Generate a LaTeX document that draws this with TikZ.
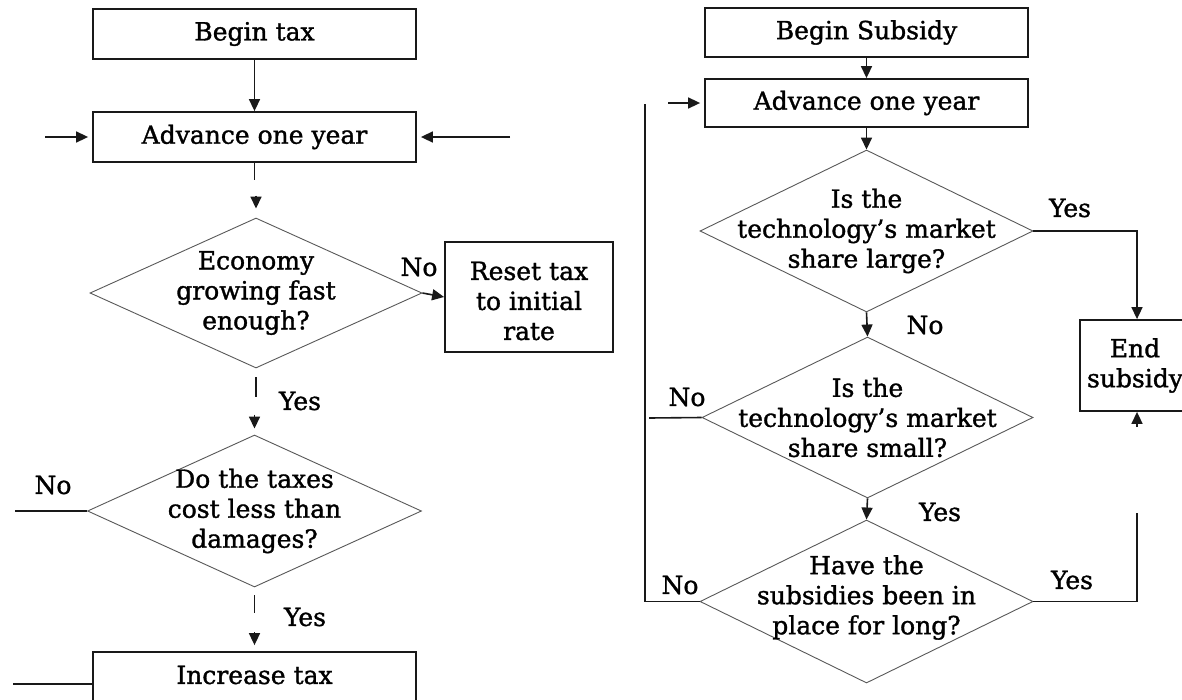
\documentclass[tikz,border=0pt]{standalone}
\usepackage{fontspec}
\setmainfont{DejaVu Serif}
\newfontfamily\chartfont{DejaVu Serif}[FakeBold=1.3,Ligatures=TeX]
\usetikzlibrary{shapes.geometric,arrows.meta,calc}
\tikzset{
  box/.style={draw=black!90, line width=1.8pt, rectangle, inner sep=0pt},
  dia/.style={draw=black!65, line width=0.9pt, diamond, inner sep=0pt},
  con/.style={draw=black!90, line width=1.6pt},
  arr/.style={con, -{Triangle[length=12pt,width=11pt]}},
  txt/.style={align=center, font=\chartfont\fontsize{25}{30}\selectfont, inner sep=0pt},
  lbl/.style={font=\chartfont\fontsize{25}{30}\selectfont, inner sep=0pt},
}
\begin{document}
\begin{tikzpicture}[x=1pt,y=-1pt]
\fill[white] (0,0) rectangle (1182,699);
\useasboundingbox (0,0) rectangle (1182,699);

% ---------- left chart: tax ----------
\node[box, minimum width=323pt, minimum height=50pt] (bt) at (254.5,34) {};
\node[txt] at (bt.center) {Begin tax};
\node[box, minimum width=323pt, minimum height=50pt] (at) at (254.5,137) {};
\node[txt] at (at.center) {Advance one year};
\node[dia, minimum width=332pt, minimum height=150pt] (d1) at (256,293) {};
\node[txt] at (d1.center) {Economy\\growing fast\\enough?};
\node[box, minimum width=168pt, minimum height=110pt] (rs) at (529,297) {};
\node[txt] at ($(rs.center)+(0,4)$) {Reset tax\\to initial\\rate};
\node[dia, minimum width=334pt, minimum height=152pt] (d2) at (254.5,511) {};
\node[txt] at (d2.center) {Do the taxes\\cost less than\\damages?};
\node[box, minimum width=323pt, minimum height=54pt] (it) at (254.5,679) {};
\node[txt] at (254.5,675) {Increase tax};

\coordinate (inL) at (45,137);
\coordinate (inR) at (510,137);
\coordinate (nL2) at (15,511);
\coordinate (nL3) at (13,684);

\draw[arr] (bt.south) -- (at.north);
\draw[arr, shorten >=4pt] (inL) -- (at.west);
\draw[arr, shorten >=4pt] (inR) -- (at.east);
\draw[con] (at.south) -- ++(0,17);
\draw[arr] ($(d1.north)+(0,-22)$) -- ($(d1.north)+(0,-9)$);
\draw[arr] (d1.east) -- (rs.west);
\node[lbl] at (419,267) {No};
\draw[con] ($(d1.south)+(0,9)$) -- ++(0,20);
\draw[arr] ($(d2.north)+(0,-20)$) -- ($(d2.north)+(0,-6)$);
\node[lbl] at (300,401) {Yes};
\draw[con] (d2.west) -- (nL2);
\node[lbl] at (53,485) {No};
\draw[con] ($(d2.south)+(0,8)$) -- ++(0,18);
\draw[arr] ($(it.north)+(0,-19)$) -- ($(it.north)+(0,-6)$);
\node[lbl] at (305,617) {Yes};
\draw[con] (it.west |- nL3) -- (nL3);

% ---------- right chart: subsidy ----------
\node[box, minimum width=323pt, minimum height=49pt] (bs) at (866.5,32.5) {};
\node[txt] at (bs.center) {Begin Subsidy};
\node[box, minimum width=323pt, minimum height=48pt] (ar) at (866.5,103) {};
\node[txt] at (ar.center) {Advance one year};
\node[dia, minimum width=333pt, minimum height=162pt] (dA) at (866.5,231) {};
\node[txt] at (dA.center) {Is the\\technology’s market\\share large?};
\node[dia, minimum width=331pt, minimum height=161pt] (dB) at (867.5,417.5) {};
\node[txt] at (dB.center) {Is the\\technology’s market\\share small?};
\node[dia, minimum width=333pt, minimum height=163pt] (dC) at (866.5,601.5) {};
\node[txt] at ($(dC.center)+(0,-4)$) {Have the\\subsidies been in\\place for long?};
\node[box, minimum width=114pt, minimum height=91pt] (es) at (1137,365.5) {};
\node[txt] at (1135,365.5) {End\\subsidy};

\coordinate (inS) at (668,103);
\coordinate (loopTop) at (645,104);
\coordinate (nB) at (649,418);
\coordinate (yC) at (1137,513);
\coordinate (upA) at (1137,427);

\draw[arr] (bs.south) -- (ar.north);
\draw[arr, shorten >=4pt] (inS) -- (ar.west);
\draw[con] (loopTop) -- (loopTop |- dC.west) -- (dC.west);
\draw[arr] (ar.south) -- (dA.north);
\draw[arr] (dA.east) -| (es.north);
\node[lbl] at (1070,208) {Yes};
\draw[arr] (dA.south) -- (dB.north);
\node[lbl] at (925,325) {No};
\draw[con] (dB.west) -- (nB);
\node[lbl] at (687,397) {No};
\draw[arr] (dB.south) -- (dC.north);
\node[lbl] at (940,512) {Yes};
\node[lbl] at (680,585) {No};
\draw[con] (dC.east) -| (yC);
\node[lbl] at (1072,580) {Yes};
\draw[arr] (upA) -- (upA |- es.south);
\end{tikzpicture}
\end{document}
